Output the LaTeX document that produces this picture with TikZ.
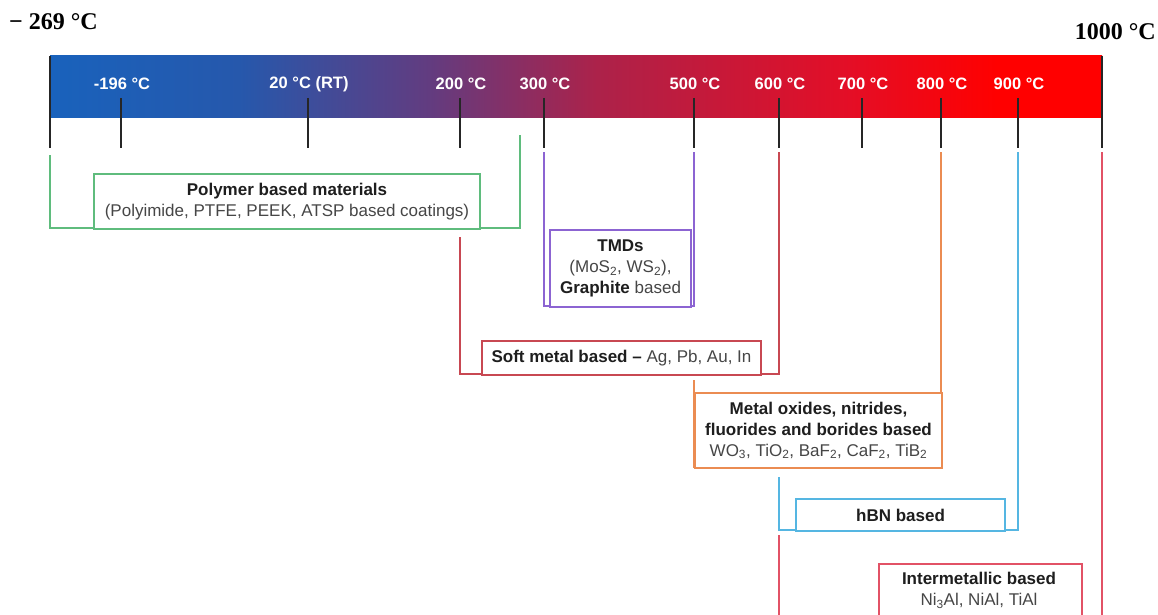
\documentclass[tikz,border=0pt]{standalone}
\usepackage{fontspec}
\setmainfont{Liberation Sans}
\newfontfamily\titleserif{Liberation Serif}
\definecolor{cA}{RGB}{25,98,188}
\definecolor{cB}{RGB}{38,88,172}
\definecolor{cC}{RGB}{98,60,128}
\definecolor{cD}{RGB}{172,34,74}
\definecolor{cE}{RGB}{228,14,38}
\definecolor{cF}{RGB}{255,0,0}
\definecolor{cgreen}{RGB}{95,188,125}
\definecolor{cpurple}{RGB}{140,100,210}
\definecolor{csoft}{RGB}{200,72,82}
\definecolor{corange}{RGB}{235,140,82}
\definecolor{cblue}{RGB}{85,182,226}
\definecolor{cinter}{RGB}{226,82,102}
\definecolor{chead}{RGB}{30,30,30}
\definecolor{ctext}{RGB}{70,70,70}
\pgfdeclarehorizontalshading{tempbar}{100bp}{color(0bp)=(cA); color(25bp)=(cA); color(34bp)=(cB); color(43bp)=(cC); color(51bp)=(cD); color(63bp)=(cE); color(70bp)=(cF); color(75bp)=(cF); color(100bp)=(cF)}
\begin{document}
\begin{tikzpicture}[x=1pt,y=-1pt,
  ticklab/.style={text=white,font=\fontsize{16.5}{18}\selectfont\bfseries,inner sep=0pt},
  tickline/.style={draw=black!85,line width=2.6pt},
  edgeline/.style={draw=black!85,line width=2.2pt},
  matbox/.style={line width=2pt,fill=white,inner sep=0pt,anchor=north west,align=center,text=ctext,font=\fontsize{17}{21}\selectfont},
  brk/.style={line width=2pt},
  endlab/.style={font=\titleserif\fontsize{24}{26}\selectfont\bfseries,inner sep=0pt}]
\useasboundingbox (0,0) rectangle (1158,615);
\clip (0,0) rectangle (1158,615);
% end labels
\node[endlab,anchor=west] (tmin) at (9,22) {\textminus\ 269 °C};
\node[endlab,anchor=east] (tmax) at (1156,32) {1000 °C};
% bar
\shade[shading=tempbar] (50,56) rectangle (1102,118);
\draw[edgeline] (50,56) -- (50,148);
\draw[edgeline] (1102,56) -- (1102,148);
% ticks and labels
\foreach \x/\lab/\nm in {121/{-196 °C}/a,308/{20 °C (RT)}/b,460/{200 °C}/c,544/{300 °C}/d,694/{500 °C}/e,779/{600 °C}/f,862/{700 °C}/g,941/{800 °C}/h,1018/{900 °C}/i}{
  \draw[tickline] (\x,98) -- (\x,148);
  \node[ticklab] (lab\nm) at (\x+1,84) {\lab};
}
% brackets
\draw[brk,cgreen] (50,155) -- (50,228) -- (520,228) -- (520,135);
\draw[brk,cpurple] (544,152) -- (544,306) -- (694,306) -- (694,152);
\draw[brk,csoft] (460,237) -- (460,374) -- (779,374) -- (779,152);
\draw[brk,corange] (694,380) -- (694,467) -- (941,467) -- (941,152);
\draw[brk,cblue] (779,477) -- (779,530) -- (1018,530) -- (1018,152);
\draw[brk,cinter] (779,535) -- (779,630);
\draw[brk,cinter] (1102,152) -- (1102,630);
% boxes
\node[matbox,draw=cgreen,minimum width=386pt,minimum height=55pt] (poly) at (93,173)
 {\textcolor{chead}{\bfseries Polymer based materials}\\(Polyimide, PTFE, PEEK, ATSP based coatings)};
\node[matbox,draw=cpurple,minimum width=141pt,minimum height=77pt] (tmd) at (549,229)
 {\textcolor{chead}{\bfseries TMDs}\\(MoS\textsubscript{2}, WS\textsubscript{2}),\\\textcolor{chead}{\bfseries Graphite} based};
\node[matbox,draw=csoft,minimum width=279pt,minimum height=34pt] (soft) at (481,340)
 {\textcolor{chead}{\bfseries Soft metal based --} Ag, Pb, Au, In};
\node[matbox,draw=corange,minimum width=247pt,minimum height=75pt] (oxide) at (694,392)
 {\textcolor{chead}{\bfseries Metal oxides, nitrides,}\\\textcolor{chead}{\bfseries fluorides and borides based}\\WO\textsubscript{3}, TiO\textsubscript{2}, BaF\textsubscript{2}, CaF\textsubscript{2}, TiB\textsubscript{2}};
\node[matbox,draw=cblue,minimum width=209pt,minimum height=32pt] (hbn) at (795,498)
 {\textcolor{chead}{\bfseries hBN based}};
\node[matbox,draw=cinter,minimum width=203pt,minimum height=70pt,anchor=north west] (inter) at (878,563) {};
\node[align=center,text=ctext,font=\fontsize{17}{21}\selectfont,anchor=north] (intertxt) at (979,569)
 {\textcolor{chead}{\bfseries Intermetallic based}\\Ni\textsubscript{3}Al, NiAl, TiAl};
\end{tikzpicture}
\end{document}
